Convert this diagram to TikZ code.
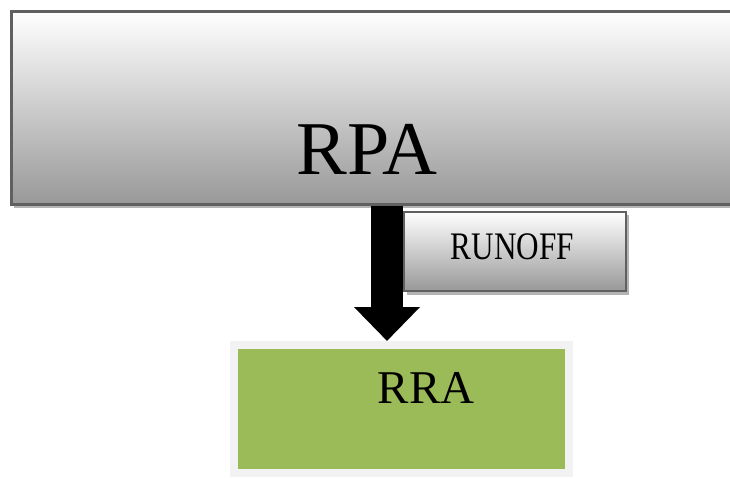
\documentclass[tikz,border=0pt]{standalone}
\usepackage{fontspec}
\setmainfont{Liberation Serif}
\newfontfamily\narrowserif[FakeStretch=0.8]{Liberation Serif}
\usetikzlibrary{arrows.meta,shadows,calc}

\definecolor{framegray}{RGB}{96,96,96}
\definecolor{shadegray}{RGB}{152,152,152}
\definecolor{shadowgray}{RGB}{180,180,180}
\definecolor{rragreen}{RGB}{155,187,89}
\definecolor{rraframe}{RGB}{242,242,242}
\definecolor{rrashadow}{RGB}{160,165,135}

\begin{document}
\begin{tikzpicture}[x=1pt, y=-1pt,
  panel/.style={draw=framegray, line width=3pt, top color=white,
    bottom color=shadegray, inner sep=0pt,
    drop shadow={shadow xshift=3pt, shadow yshift=-3.5pt,
      fill=shadowgray, opacity=1}},
  greenbox/.style={draw=rraframe, line width=8pt, fill=rragreen,
    inner sep=0pt,
    drop shadow={shadow xshift=3pt, shadow yshift=-3pt,
      fill=rrashadow, opacity=1}},
  boxtext/.style={anchor=base, inner sep=0pt},
  flow/.style={line width=32pt, -{Triangle[width=64pt, length=34pt]}}]
  \useasboundingbox (0,0) rectangle (730,478);

  % boxes
  \node[panel, minimum width=729pt, minimum height=193pt] (rpa) at (375.5,108.5) {};
  \node[panel, line width=2.5pt, minimum width=222pt, minimum height=79pt] (runoff) at (515,251.5) {};
  \node[greenbox, minimum width=335pt, minimum height=128pt] (rra) at (401.5,409) {};

  % labels
  \node[boxtext, font=\fontsize{76}{76}\selectfont] (rpatext) at ($(rpa.center)+(-8.5,66.5)$) {RPA};
  \node[boxtext, font=\narrowserif\fontsize{39}{39}\selectfont] (runofftext) at ($(runoff.center)+(-2.5,7.5)$) {RUNOFF};
  \node[boxtext, font=\fontsize{47}{47}\selectfont] (rratext) at ($(rra.center)+(24.5,-6)$) {RRA};

  % flow from RPA down to RRA
  \coordinate (drop) at (387,0);
  \draw[flow] (rpa.south -| drop) -- (rra.north -| drop);
\end{tikzpicture}
\end{document}
